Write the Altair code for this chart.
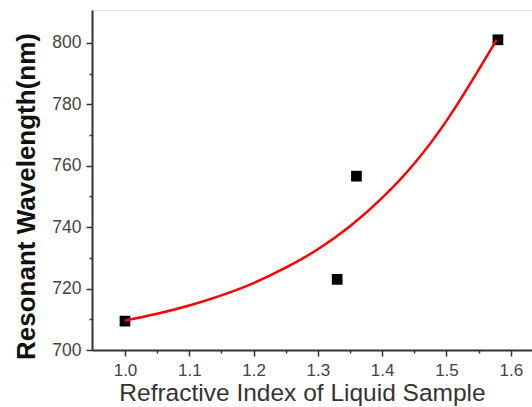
import altair as alt
import pandas as pd

# Measured samples: refractive index vs. resonant wavelength
ri = [1.0, 1.33, 1.36, 1.58]
wavelength = [709.4, 723.0, 756.6, 801.0]

# Exponential fit curve, sampled along its length
fit_ri = [1.0, 1.05, 1.10, 1.15, 1.20, 1.25, 1.30, 1.35, 1.40, 1.45,
          1.50, 1.55, 1.578]
fit_wl = [709.6, 711.8, 714.5, 717.8, 721.8, 726.8, 732.8, 740.3, 749.5,
          760.7, 774.6, 791.2, 801.0]

pts = pd.DataFrame({"ri": ri, "wl": wavelength})
fit = pd.DataFrame({"ri": fit_ri, "wl": fit_wl})

xscale = alt.Scale(domain=[0.9487, 1.633], nice=False, zero=False)
yscale = alt.Scale(domain=[700, 810.7], nice=False, zero=False)

FONT = "Liberation Sans"
AX = "#333333"

x_major = alt.Axis(
    values=[1.0, 1.1, 1.2, 1.3, 1.4, 1.5, 1.6], format=".1f", grid=False,
    domainColor=AX, domainWidth=2, tickColor=AX, tickWidth=1.5, tickSize=6,
    labelFont=FONT, labelFontSize=17, labelColor="#444444", labelPadding=6,
    title="Refractive Index of Liquid Sample", titleFont=FONT,
    titleFontSize=24.5, titleFontWeight="normal", titleColor="#333333",
    titlePadding=3, titleX=210,
)
y_major = alt.Axis(
    values=[700, 720, 740, 760, 780, 800], grid=False,
    domainColor=AX, domainWidth=2, tickColor=AX, tickWidth=1.5, tickSize=6,
    labelFont=FONT, labelFontSize=17.5, labelColor="#444444", labelPadding=5,
    title="Resonant Wavelength(nm)", titleFont=FONT, titleFontSize=26,
    titleFontWeight="bold", titleColor="#111111", titlePadding=12,
    titleY=186,
)
x_minor = alt.Axis(
    values=[1.05, 1.15, 1.25, 1.35, 1.45, 1.55], orient="bottom", grid=False,
    domain=False, labels=False, title=None, tickColor=AX, tickWidth=1.5,
    tickSize=3,
)
y_minor = alt.Axis(
    values=[710, 730, 750, 770, 790], orient="left", grid=False,
    domain=False, labels=False, title=None, tickColor=AX, tickWidth=1.5,
    tickSize=3,
)

points = alt.Chart(pts).mark_point(
    shape="square", filled=True, color="black", size=115, opacity=1
).encode(
    x=alt.X("ri:Q", scale=xscale, axis=x_major),
    y=alt.Y("wl:Q", scale=yscale, axis=y_major),
)

curve = alt.Chart(fit).mark_line(
    color="#ff0000", strokeWidth=2.5, interpolate="monotone"
).encode(
    x=alt.X("ri:Q", scale=xscale, axis=x_minor),
    y=alt.Y("wl:Q", scale=yscale, axis=y_minor),
)

chart = alt.layer(points, curve).resolve_axis(
    x="independent", y="independent"
).properties(
    width=440, height=340,
    autosize=alt.AutoSizeParams(type="none"),
    padding={"left": 92, "top": 10, "right": 0, "bottom": 57},
).configure_view(stroke=None).configure(background="white")

chart.save("out.html", embed_options={"renderer": "svg", "actions": False})
